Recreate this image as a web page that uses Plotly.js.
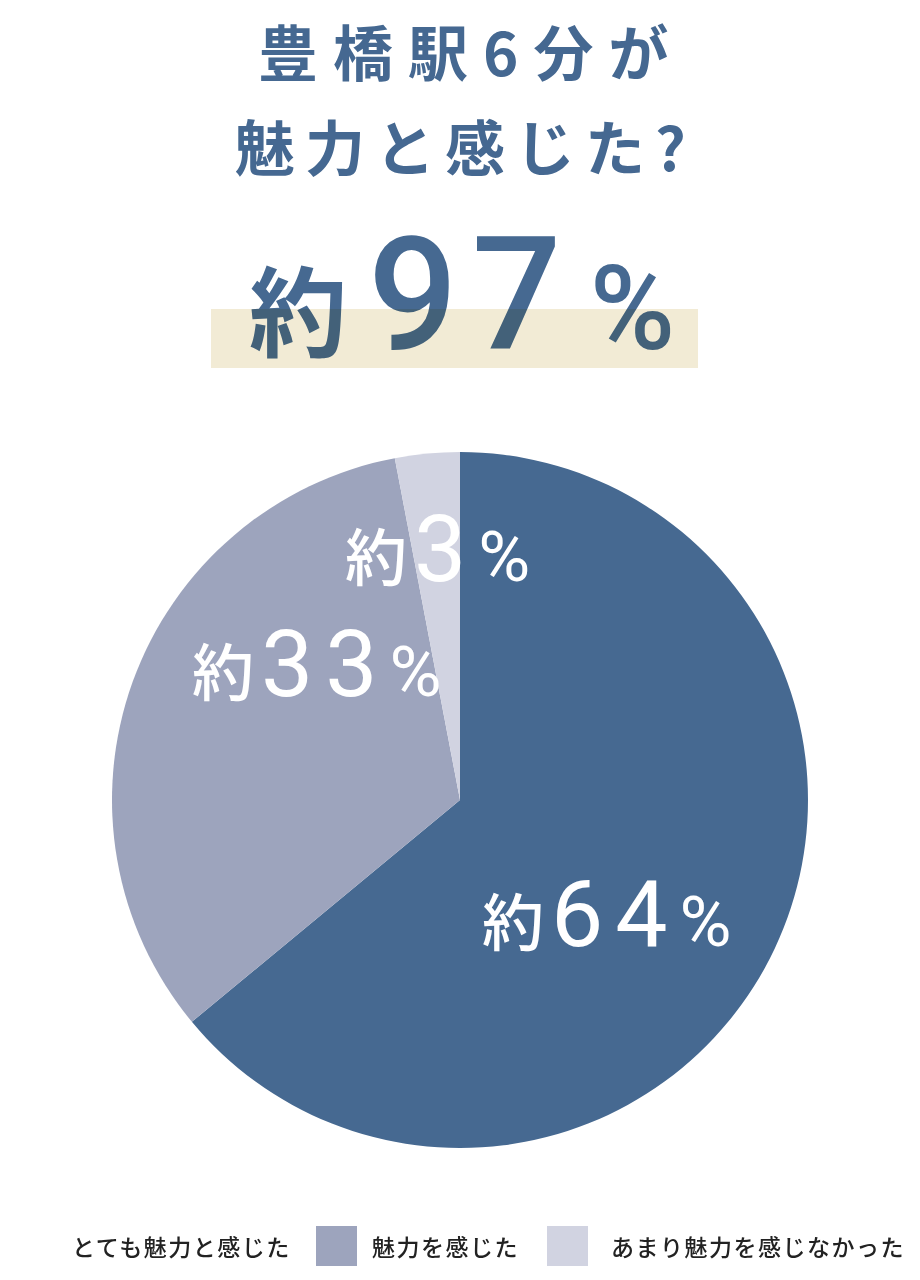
<!DOCTYPE html>
<html>
<head>
<meta charset="utf-8">
<script src="https://cdn.plot.ly/plotly-3.0.1.min.js"></script>
<style>
  html, body { margin: 0; padding: 0; background: #ffffff; }
  #chart { width: 920px; height: 1280px; }
  g.annotation[data-index="2"] text { mix-blend-mode: multiply; }
</style>
</head>
<body>
<div id="chart"></div>
<script>
// ---- data ----
const categories = ['とても魅力と感じた', '魅力を感じた', 'あまり魅力を感じなかった'];
const values = [64, 33, 3];
const sliceColors = ['#466991', '#9da4bd', '#d1d3e1'];
const titleLines = ['豊橋駅6分が', '魅力と感じた?'];
const prefix = '約';
const headlineValue = values[0] + values[1];

// ---- helpers (pixel -> paper) ----
const W = 920, H = 1280;
const px = x => x / W;
const py = y => 1 - y / H;
const FONT = '"Noto Sans CJK JP", "Noto Sans", sans-serif';
const BLUE = '#456891';

const cx = 460, cy = 800, R = 348;

const pie = {
  type: 'pie',
  labels: categories,
  values: values,
  sort: false,
  direction: 'clockwise',
  rotation: 0,
  marker: { colors: sliceColors, line: { width: 0 } },
  textinfo: 'none',
  hoverinfo: 'none',
  showlegend: false,
  domain: { x: [px(cx - R), px(cx + R)], y: [py(cy + R), py(cy - R)] }
};

function sp(txt, size, ls, extra) {
  return '<span style="font-size:' + size + 'px;letter-spacing:' + ls + 'px' + (extra ? ';' + extra : '') + '">' + txt + '</span>';
}
function sliceLabel(v) {
  return sp(prefix, 62, 7) +
         sp(String(v), 93, 12, 'font-family:Roboto;font-weight:400') +
         sp('%', 71, 0, 'font-family:Roboto;font-weight:400');
}

const labelPos = [
  { x: 607, y: 914 },
  { x: 317, y: 664 },
  { x: 437, y: 549 }
];

const titleSpec = [
  { x: 470, y: 49, ls: 15 },
  { x: 465, y: 144, ls: 10 }
];
const annotations = titleLines.map((t, i) => ({
  text: '<span style="letter-spacing:' + titleSpec[i].ls + 'px">' + t + '</span>',
  x: px(titleSpec[i].x), y: py(titleSpec[i].y), xref: 'paper', yref: 'paper',
  xanchor: 'center', yanchor: 'middle',
  showarrow: false, font: { size: 60, color: BLUE, family: FONT, weight: 700 }
}));

const hv = String(headlineValue);
const DIG = 'font-family:Roboto;font-weight:500';
annotations.push({
  text: sp(prefix, 98, 21) +
        sp(hv.slice(0, -1), 158, 14, DIG) +
        sp(hv.slice(-1), 158, 28, DIG) +
        sp('%', 116, 0, DIG),
  x: px(462), y: py(295), xref: 'paper', yref: 'paper', xanchor: 'center', yanchor: 'middle',
  showarrow: false, font: { size: 98, color: '#466991', family: FONT, weight: 700 }
});

values.forEach((v, i) => {
  annotations.push({
    text: sliceLabel(v),
    x: px(labelPos[i].x), y: py(labelPos[i].y), xref: 'paper', yref: 'paper',
    xanchor: 'center', yanchor: 'middle', showarrow: false,
    font: { size: 62, color: '#ffffff', family: FONT, weight: 500 }
  });
});

// legend (custom, large swatches)
const legendTextX = [70, 370, 609];
categories.forEach((c, i) => {
  annotations.push({
    text: '<span style="letter-spacing:1.5px">' + c + '</span>',
    x: px(legendTextX[i]), y: py(1246), xref: 'paper', yref: 'paper',
    xanchor: 'left', yanchor: 'middle', showarrow: false,
    font: { size: 23, color: '#222222', family: FONT, weight: 500 }
  });
});

const shapes = [
  { type: 'rect', xref: 'paper', yref: 'paper', x0: px(211), x1: px(698), y0: py(368), y1: py(309),
    fillcolor: '#f2ebd5', line: { width: 0 }, layer: 'below' },
  { type: 'rect', xref: 'paper', yref: 'paper', x0: px(316), x1: px(357), y0: py(1266), y1: py(1226),
    fillcolor: sliceColors[1], line: { width: 0 } },
  { type: 'rect', xref: 'paper', yref: 'paper', x0: px(547), x1: px(588), y0: py(1266), y1: py(1226),
    fillcolor: sliceColors[2], line: { width: 0 } }
];

const layout = {
  width: W, height: H,
  margin: { l: 0, r: 0, t: 0, b: 0 },
  paper_bgcolor: '#ffffff', plot_bgcolor: '#ffffff',
  showlegend: false,
  annotations: annotations,
  shapes: shapes,
  font: { family: FONT }
};

Plotly.newPlot('chart', [pie], layout, { staticPlot: true, displayModeBar: false });
</script>
</body>
</html>
